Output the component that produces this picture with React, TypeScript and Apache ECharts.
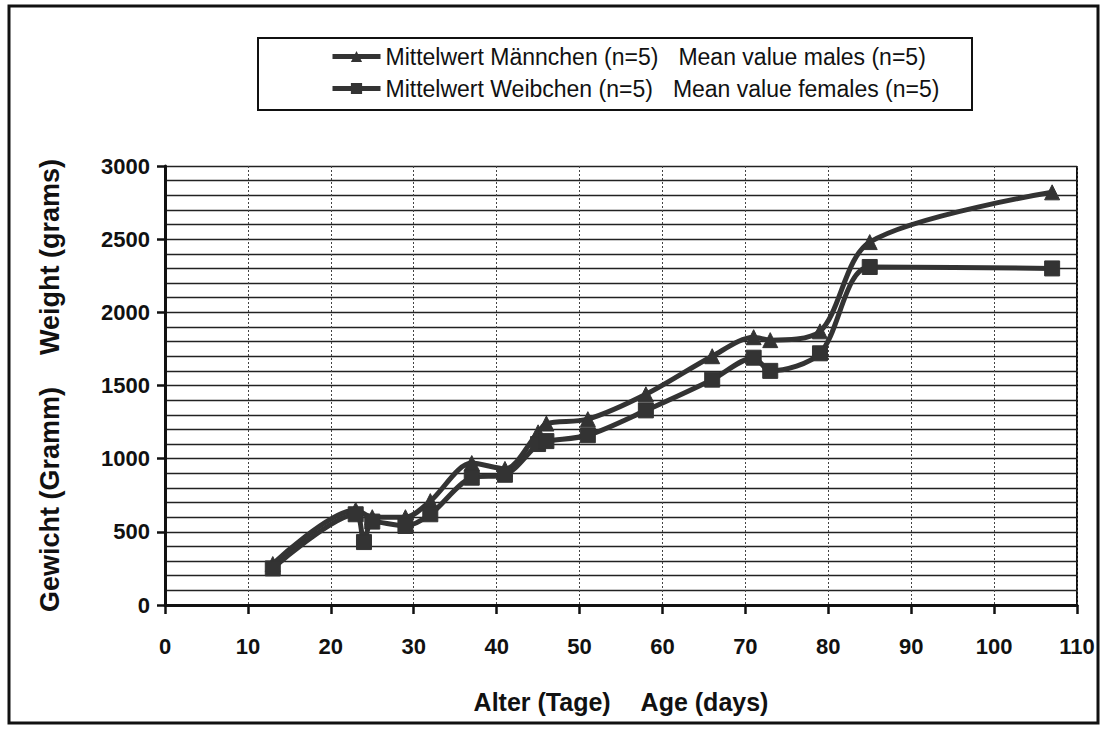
import React, { useEffect, useRef } from "react";
import * as echarts from "echarts";

const maleDays = [13, 23, 25, 29, 32, 37, 41, 45, 46, 51, 58, 66, 71, 73, 79, 85, 107];
const maleValues = [280, 650, 600, 600, 710, 970, 930, 1180, 1240, 1270, 1440, 1700, 1830, 1810, 1870, 2480, 2820];
const femaleDays = [13, 23, 24, 25, 29, 32, 37, 41, 45, 46, 51, 58, 66, 71, 73, 79, 85, 107];
const femaleValues = [250, 620, 430, 570, 540, 620, 870, 890, 1100, 1120, 1160, 1330, 1540, 1690, 1600, 1720, 2310, 2300];

const seriesNamesDe = ["Mittelwert Männchen (n=5)", "Mittelwert Weibchen (n=5)"];
const seriesNamesEn = ["Mean value males (n=5)", "Mean value females (n=5)"];

const xTitleDe = "Alter (Tage)";
const xTitleEn = "Age (days)";
const yTitleDe = "Gewicht (Gramm)";
const yTitleEn = "Weight (grams)";

const FONT = "Liberation Sans, Arial, sans-serif";
const INK = "#111111";
const LINE = "#333333";

export default function App() {
  const ref = useRef<HTMLDivElement>(null);
  useEffect(() => {
    document.body.style.margin = "0";
    const chart = echarts.init(ref.current!, null, { renderer: "svg" });
    const pair = (d: number[], v: number[]) => d.map((x, i) => [x, v[i]]);
    const titleRich = (size: number, gap: number) => ({
      p: { fontFamily: FONT, fontSize: size, fontWeight: "bold", color: INK },
      q: { fontFamily: FONT, fontSize: size, fontWeight: "bold", color: INK, padding: [0, 0, 0, gap] },
    });
    chart.setOption({
      animation: false,
      backgroundColor: "#ffffff",
      grid: { left: 165, right: 27, top: 166, bottom: 126 },
      legend: {
        orient: "vertical",
        left: 330,
        top: 45,
        padding: 0,
        itemWidth: 48,
        itemHeight: 14,
        itemGap: 9,
        data: seriesNamesDe,
        lineStyle: { width: 5 },
        formatter: (name: string) => {
          const i = seriesNamesDe.indexOf(name);
          return `{a|${name}}{b|${seriesNamesEn[i]}}`;
        },
        textStyle: {
          color: INK,
          fontFamily: FONT,
          fontSize: 23,
          rich: {
            a: { fontFamily: FONT, fontSize: 23, color: INK },
            b: { fontFamily: FONT, fontSize: 23, color: INK, padding: [0, 0, 0, 20] },
          },
        },
      },
      graphic: [
        {
          type: "rect",
          shape: { x: 258, y: 38, width: 714, height: 72 },
          style: { fill: "none", stroke: INK, lineWidth: 2 },
          silent: true,
        },
        {
          type: "rect",
          shape: { x: 9, y: 6, width: 1089, height: 717 },
          style: { fill: "none", stroke: INK, lineWidth: 3 },
          silent: true,
        },
        {
          type: "line",
          shape: { x1: 1077, y1: 166, x2: 1077, y2: 605 },
          style: { stroke: INK, lineWidth: 2 },
          silent: true,
        },
      ],
      xAxis: {
        type: "value",
        min: 0,
        max: 110,
        interval: 10,
        name: `{p|${xTitleDe}}{q|${xTitleEn}}`,
        nameLocation: "middle",
        nameGap: 84,
        nameTextStyle: { fontFamily: FONT, fontSize: 25, fontWeight: "bold", color: INK, rich: titleRich(25, 30) },
        axisLine: { show: true, onZero: false, lineStyle: { color: INK, width: 3 } },
        axisTick: { show: true, inside: false, length: 9, lineStyle: { color: INK, width: 2.5 } },
        axisLabel: { fontFamily: FONT, fontSize: 22, fontWeight: "bold", color: INK, margin: 30 },
        splitLine: { show: true, lineStyle: { color: "#444", width: 1, type: [2, 2] } },
      },
      yAxis: {
        type: "value",
        min: 0,
        max: 3000,
        interval: 500,
        name: `{p|${yTitleDe}}{q|${yTitleEn}}`,
        nameLocation: "middle",
        nameRotate: 90,
        nameGap: 102,
        nameTextStyle: { fontFamily: FONT, fontSize: 27, fontWeight: "bold", color: INK, rich: titleRich(27, 32) },
        axisLine: { show: true, lineStyle: { color: INK, width: 3 } },
        axisTick: { show: true, inside: false, length: 8, lineStyle: { color: INK, width: 2.5 } },
        axisLabel: {
          fontFamily: FONT,
          fontSize: 22,
          fontWeight: "bold",
          color: INK,
          margin: 15,
          formatter: (v: number) => String(v),
        },
        splitLine: { show: true, lineStyle: { color: "#222", width: 1.3 } },
        minorTick: { show: false, splitNumber: 5 },
        minorSplitLine: { show: true, lineStyle: { color: "#222", width: 1.3 } },
      },
      series: [
        {
          name: seriesNamesDe[0],
          type: "line",
          data: pair(maleDays, maleValues),
          smooth: 0.3,
          symbol: "triangle",
          symbolSize: 15,
          showAllSymbol: true,
          lineStyle: { color: LINE, width: 5 },
          itemStyle: { color: LINE, borderColor: LINE },
        },
        {
          name: seriesNamesDe[1],
          type: "line",
          data: pair(femaleDays, femaleValues),
          smooth: 0.3,
          symbol: "rect",
          symbolSize: 15,
          showAllSymbol: true,
          lineStyle: { color: LINE, width: 5 },
          itemStyle: { color: LINE, borderColor: LINE },
        },
      ],
    });
    return () => chart.dispose();
  }, []);
  return <div ref={ref} style={{ width: 1104, height: 731 }} />;
}
